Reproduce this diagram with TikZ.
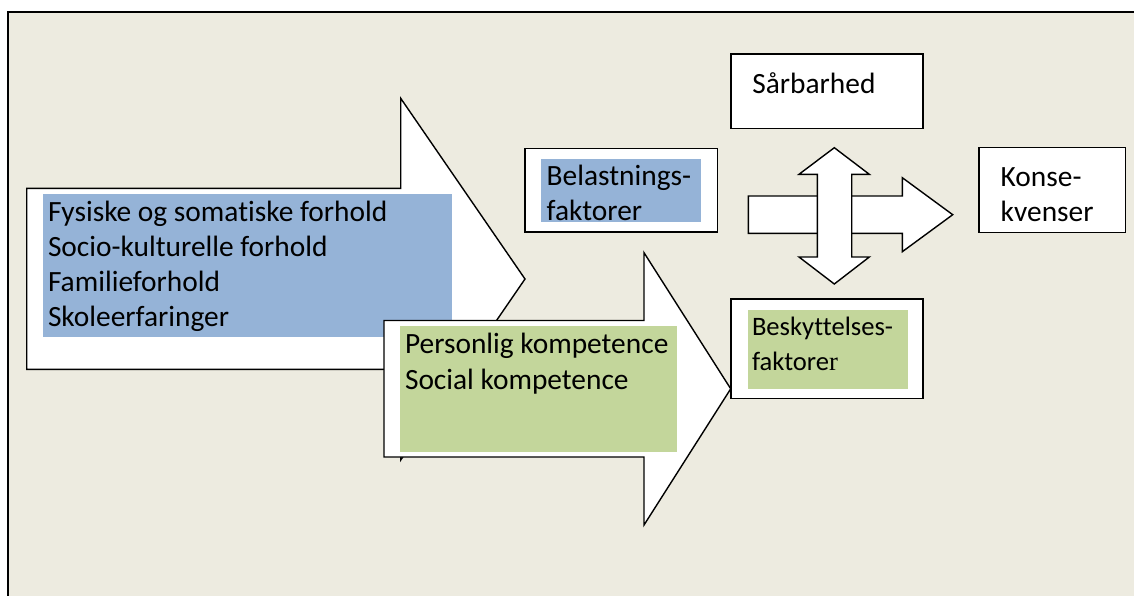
\documentclass[tikz,border=0pt]{standalone}
\usepackage{fontspec}
\setmainfont{Carlito}[Ligatures=NoCommon]
\newfontfamily\serifr{Liberation Serif}
\definecolor{bgc}{HTML}{EDEBE0}
\definecolor{blueF}{HTML}{95B3D7}
\definecolor{greenF}{HTML}{C3D69B}
\tikzset{
  frame/.style={draw=black, line width=1.8pt, fill=bgc},
  shapeline/.style={draw=black, line width=1.4pt, fill=white, line join=miter},
  boxnode/.style={draw=black, line width=1.4pt, fill=white, inner sep=0pt, outer sep=0pt, anchor=north west},
  txt/.style={anchor=base west, inner sep=0pt, outer sep=0pt, font=\fontsize{29.4}{35}\selectfont},
  smalltxt/.style={anchor=base west, inner sep=0pt, outer sep=0pt, font=\fontsize{26.6}{32}\selectfont}
}
\begin{document}
\begin{tikzpicture}[x=1pt,y=-1pt]
\useasboundingbox (0,0) rectangle (1134,595);
\fill[white] (0,0) rectangle (1134,595);
\clip (0,0) rectangle (1134,595);
\draw[frame] (8,12) rectangle (1160,620);

% big arrow 1 (load factors)
\draw[shapeline] (26.7,188.3) -- (400.7,188.3) -- (400.7,98.3) -- (525,279) -- (400.7,460) -- (400.7,369.3) -- (26.7,369.3) -- cycle;
\fill[blueF] (42.7,194) rectangle (452,337.3);
\node[txt] (t1) at (48,221.7) {Fysiske og somatiske forhold};
\node[txt] (t2) at (48,256.7) {Socio-kulturelle forhold};
\node[txt] (t3) at (48,291.7) {Familieforhold};
\node[txt] (t4) at (48,326.7) {Skoleerfaringer};

% big arrow 2 (competences)
\draw[shapeline] (384,320.5) -- (644,320.5) -- (644,252.7) -- (730.7,388.8) -- (644,525) -- (644,457) -- (384,457) -- cycle;
\fill[greenF] (400,326) rectangle (676.7,451.7);
\node[txt] (p1) at (405,353.5) {Personlig kompetence};
\node[txt] (p2) at (405,389) {Social kompetence};

% boxes
\node[boxnode, minimum width=192.7pt, minimum height=83.7pt] (bel) at (525,148.3) {};
\fill[blueF] (541,159.3) rectangle (701,221.7);
\node[txt] (b1) at (546.7,185) {Belastnings-};
\node[txt] (b2) at (546.7,220.5) {faktorer};

\node[boxnode, minimum width=192pt, minimum height=74.3pt] (sar) at (731,54) {};
\node[txt] (s1) at (752.3,93.3) {Sårbarhed};

\node[boxnode, minimum width=146.7pt, minimum height=84.6pt] (kon) at (979,147.7) {};
\node[txt] (k1) at (1000.7,186) {Konse-};
\node[txt] (k2) at (1000.7,221.7) {kvenser};

\node[boxnode, minimum width=192pt, minimum height=99.3pt] (besk) at (731,299) {};
\fill[greenF] (748,309.6) rectangle (907.5,388.7);
\node[smalltxt] (g1) at (752,335.4) {Beskyttelses-};
\node[smalltxt] (g2) at (752,370.2) {faktore{\serifr r}};

% right arrow
\draw[shapeline] (748.3,196) -- (902.3,196) -- (902.3,177.7) -- (952.7,214.7) -- (902.3,251.7) -- (902.3,233.3) -- (748.3,233.3) -- cycle;
% vertical double arrow
\draw[shapeline] (834.3,147.7) -- (869.3,174.3) -- (851.7,174.3) -- (851.7,257) -- (869.3,257) -- (834.3,284) -- (799,257) -- (817.3,257) -- (817.3,174.3) -- (799,174.3) -- cycle;
\end{tikzpicture}
\end{document}
